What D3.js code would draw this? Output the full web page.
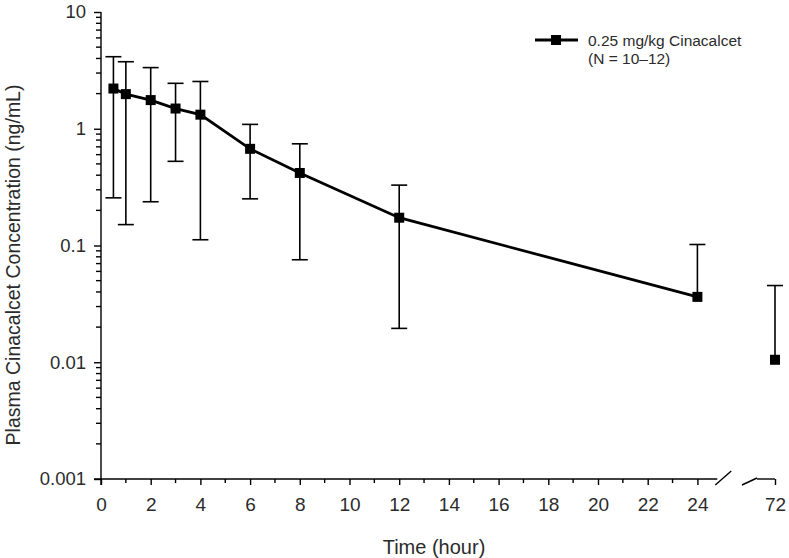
<!DOCTYPE html>
<html>
<head>
<meta charset="utf-8">
<script src="https://cdn.jsdelivr.net/npm/d3@7"></script>
<style>
  html, body { margin: 0; padding: 0; background: #fff; }
  svg { display: block; font-family: "Liberation Sans", Arial, sans-serif; }
</style>
</head>
<body>
<svg id="chart" width="789" height="558"></svg>
<script>
// ---- data ----
const times = [0.5, 1, 2, 3, 4, 6, 8, 12, 24, 72];
const means = [2.21, 1.98, 1.76, 1.49, 1.32, 0.673, 0.418, 0.173, 0.0363, 0.0105];
const upper = [4.14, 3.75, 3.34, 2.45, 2.54, 1.09, 0.743, 0.329, 0.102, 0.0454];
const lower = [0.256, 0.151, 0.237, 0.526, 0.112, 0.251, 0.0755, 0.0195, null, null];
const xTicks = [0, 2, 4, 6, 8, 10, 12, 14, 16, 18, 20, 22, 24];
const xMinorTicks = [1, 3, 5, 7, 9, 11, 13, 15, 17, 19, 21, 23];
const xLateTicks = [72];
const yTicks = [0.001, 0.01, 0.1, 1, 10];
const seriesLabel = ["0.25 mg/kg Cinacalcet", "(N = 10\u201312)"];
const xTitle = "Time (hour)";
const yTitle = "Plasma Cinacalcet Concentration (ng/mL)";

const svg = d3.select("#chart");
const xAxisY = 479;
const txtCol = "#2b2b2b";

// scales
const y = d3.scaleLog().domain([0.001, 10]).range([479, 12]);
const xMain = d3.scaleLinear().domain([0, 24]).range([101, 697.4]);
const xLate = d3.scaleLinear().domain([72, 73]).range([775, 799.85]);
const xPos = t => t > 30 ? xLate(t) : xMain(t);

const g = svg.append("g");

// y axis
const yAxis = d3.axisLeft(y)
  .tickValues(yTicks)
  .tickFormat(d => d >= 1 ? d3.format("d")(d) : String(d))
  .tickSizeOuter(0).tickSize(7).tickPadding(8);
const yg = g.append("g").attr("transform", `translate(${xMain(0)},0)`).call(yAxis);
yg.select(".domain").remove();
g.append("line").attr("x1", xMain(0)).attr("x2", xMain(0))
  .attr("y1", y(10)).attr("y2", xAxisY + 6).attr("stroke", "#000").attr("stroke-width", 1.4);
yg.selectAll(".tick line").attr("stroke", "#000").attr("stroke-width", 1.4);
yg.selectAll(".tick text").attr("font-size", 18.5).attr("fill", txtCol)
  .attr("font-family", "Liberation Sans, Arial, sans-serif");
// minor y ticks
const minorY = [];
for (let e = -3; e < 1; e++) for (let m = 2; m <= 9; m++) minorY.push(m * Math.pow(10, e));
g.append("g").selectAll("line").data(minorY).join("line")
  .attr("x1", xMain(0) - 5).attr("x2", xMain(0))
  .attr("y1", d => y(d)).attr("y2", d => y(d))
  .attr("stroke", "#000").attr("stroke-width", 1.4);

// x axis main
const xAxis = d3.axisBottom(xMain).tickValues(xTicks).tickSize(6).tickPadding(13).tickSizeOuter(0);
const xg = g.append("g").attr("transform", `translate(0,${xAxisY})`).call(xAxis);
xg.select(".domain").remove();
xg.selectAll(".tick line").attr("stroke", "#000").attr("stroke-width", 1.4);
xg.selectAll(".tick text").attr("font-size", 19).attr("fill", txtCol)
  .attr("font-family", "Liberation Sans, Arial, sans-serif");
g.append("g").selectAll("line").data(xMinorTicks).join("line")
  .attr("x1", d => xMain(d)).attr("x2", d => xMain(d))
  .attr("y1", xAxisY).attr("y2", xAxisY + 4)
  .attr("stroke", "#000").attr("stroke-width", 1.4);
g.append("line").attr("x1", xMain(0) - 7).attr("x2", xMain(24.8))
  .attr("y1", xAxisY).attr("y2", xAxisY).attr("stroke", "#000").attr("stroke-width", 1.4);

// x axis late segment
const xg2 = g.append("g").attr("transform", `translate(0,${xAxisY})`)
  .call(d3.axisBottom(xLate).tickValues(xLateTicks).tickFormat(d3.format("d"))
    .tickSize(6).tickPadding(13).tickSizeOuter(0));
xg2.select(".domain").remove();
xg2.selectAll(".tick line").attr("stroke", "#000").attr("stroke-width", 1.4);
xg2.selectAll(".tick text").attr("font-size", 19).attr("fill", txtCol)
  .attr("font-family", "Liberation Sans, Arial, sans-serif");
g.append("line").attr("x1", 757).attr("x2", xLate(72))
  .attr("y1", xAxisY).attr("y2", xAxisY).attr("stroke", "#000").attr("stroke-width", 1.4);
// break marks
g.append("line").attr("x1", xMain(24.8) - 2).attr("y1", xAxisY + 6)
  .attr("x2", xMain(24.8) + 14).attr("y2", xAxisY - 8).attr("stroke", "#000").attr("stroke-width", 1.4);
g.append("line").attr("x1", 742).attr("y1", xAxisY + 6)
  .attr("x2", 757).attr("y2", xAxisY - 1).attr("stroke", "#000").attr("stroke-width", 1.4);

// axis titles
svg.append("text").attr("x", 434).attr("y", 554).attr("text-anchor", "middle")
  .attr("font-size", 20).attr("fill", txtCol).text(xTitle);
svg.append("text").attr("transform", "translate(20,265) rotate(-90)").attr("text-anchor", "middle")
  .attr("font-size", 19.5).attr("fill", txtCol).text(yTitle);

// data
const data = times.map((t, i) => ({ t, m: means[i], hi: upper[i], lo: lower[i] }));
const capW = 8;
const eb = g.append("g").attr("stroke", "#000").attr("stroke-width", 1.6);
data.forEach(d => {
  const cx = xPos(d.t);
  const yLo = d.lo == null ? y(d.m) : y(d.lo);
  eb.append("line").attr("x1", cx).attr("x2", cx).attr("y1", y(d.hi)).attr("y2", yLo);
  eb.append("line").attr("x1", cx - capW).attr("x2", cx + capW).attr("y1", y(d.hi)).attr("y2", y(d.hi));
  if (d.lo != null)
    eb.append("line").attr("x1", cx - capW).attr("x2", cx + capW).attr("y1", y(d.lo)).attr("y2", y(d.lo));
});
const line = d3.line().x(d => xPos(d.t)).y(d => y(d.m));
g.append("path").datum(data.filter(d => d.t <= 24)).attr("d", line)
  .attr("fill", "none").attr("stroke", "#000").attr("stroke-width", 2.8);
const ms = 10;
g.append("g").selectAll("rect").data(data).join("rect")
  .attr("x", d => xPos(d.t) - ms / 2).attr("y", d => y(d.m) - ms / 2)
  .attr("width", ms).attr("height", ms).attr("fill", "#000");

// legend
const lg = svg.append("g");
lg.append("line").attr("x1", 535).attr("x2", 578).attr("y1", 40).attr("y2", 40)
  .attr("stroke", "#000").attr("stroke-width", 2.8);
lg.append("rect").attr("x", 551).attr("y", 35).attr("width", 10).attr("height", 10).attr("fill", "#000");
lg.append("text").attr("x", 588).attr("y", 46).attr("font-size", 15.5).attr("fill", txtCol).text(seriesLabel[0]);
lg.append("text").attr("x", 588).attr("y", 64).attr("font-size", 15.5).attr("fill", txtCol).text(seriesLabel[1]);
</script>
</body>
</html>
